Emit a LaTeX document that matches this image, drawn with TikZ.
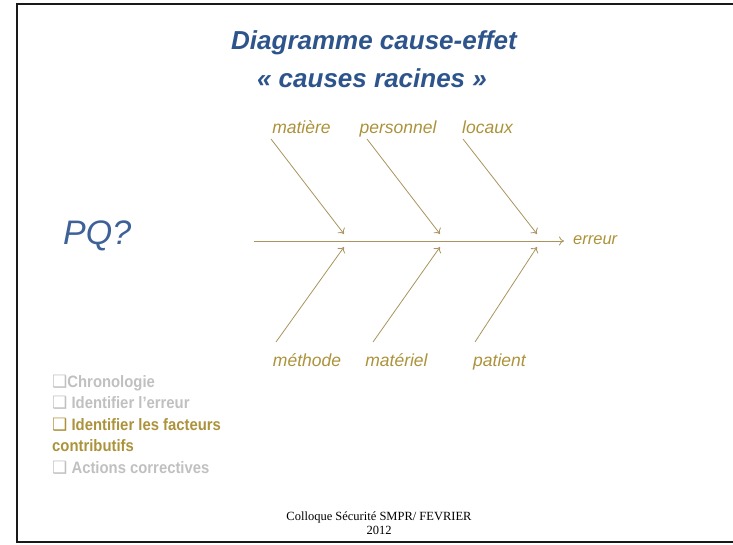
\documentclass[tikz,border=0pt]{standalone}
\usepackage{fontspec}
\usetikzlibrary{arrows.meta}
\setmainfont{Liberation Sans}
\newfontfamily\symfont{DejaVu Sans}
\newfontfamily\narrowfont[FakeStretch=0.9]{Liberation Sans}
\newfontfamily\footfont{Liberation Serif}
\definecolor{titleblue}{RGB}{46,84,140}
\definecolor{pqblue}{RGB}{62,98,152}
\definecolor{gold}{RGB}{172,146,58}
\definecolor{boneline}{RGB}{168,148,92}
\definecolor{greytext}{RGB}{192,192,192}

\begin{document}
\begin{tikzpicture}[x=1pt,y=-1pt,
    title/.style={font=\fontsize{26}{30}\selectfont\bfseries\itshape, text=titleblue, inner sep=0pt, anchor=base},
    cause/.style={font=\fontsize{17.5}{20}\selectfont\itshape, text=gold, inner sep=0pt, anchor=base},
    bone/.style={draw=boneline, line width=0.8pt, -{To[length=5pt,width=9pt]}},
    item/.style={font=\fontsize{16.5}{20}\selectfont\narrowfont\bfseries, inner sep=0pt, anchor=base west},
    box/.style={}]
    \useasboundingbox (0,0) rectangle (733,545);

    % frame of the slide
    \draw[line width=2.6pt, black!90] (733,4) -- (17,4) -- (17,542) -- (733,542);

    % title
    \node[title] (t1) at (374,50) {Diagramme cause-effet};
    \node[title] (t2) at (372,88) {« causes racines »};

    \node[font=\fontsize{34}{40}\selectfont\itshape, text=pqblue, inner sep=0pt, anchor=base west] (pq) at (63,245) {PQ?};

    % main spine
    \coordinate (tail) at (254,241);
    \node[cause, font=\fontsize{16.5}{20}\selectfont\itshape, anchor=base west] (erreur) at (573,245) {erreur};
    \draw[bone] (tail) -- ([xshift=-9pt]erreur.west |- tail);

    % causes above the spine
    \foreach \name/\txt/\lx/\sx/\ex in {matiere/matière/301.5/271/344, personnel/personnel/398/367/440, locaux/locaux/487.5/463/537} {
        \node[cause] (\name) at (\lx,134) {\txt};
        \coordinate (\name-s) at (\sx,139);
        \coordinate (\name-e) at (\ex,234);
        \draw[bone] (\name-s) -- (\name-e);
    }

    % causes below the spine
    \foreach \name/\txt/\lx/\sx/\ex in {methode/méthode/307/276/344, materiel/matériel/396.5/373/440, patient/patient/499.5/475/537} {
        \node[cause] (\name) at (\lx,366) {\txt};
        \coordinate (\name-s) at (\sx,342);
        \coordinate (\name-e) at (\ex,247);
        \draw[bone] (\name-s) -- (\name-e);
    }

    % steps of the analysis
    \node[item, text=greytext] (b1) at (52,387) {{\symfont\fontsize{17}{16}\selectfont ❑}Chronologie};
    \node[item, text=greytext] (b2) at (52,408.5) {{\symfont\fontsize{17}{16}\selectfont ❑} Identifier l’erreur};
    \node[item, text=gold] (b3) at (52,430) {{\symfont\fontsize{17}{16}\selectfont ❑} Identifier les facteurs};
    \node[item, text=gold] (b4) at (52,451.5) {contributifs};
    \node[item, text=greytext] (b5) at (52,473) {{\symfont\fontsize{17}{16}\selectfont ❑} Actions correctives};

    % footer
    \node[font=\fontsize{12.5}{14}\selectfont\footfont, inner sep=0pt, anchor=base] (foot1) at (379,520) {Colloque Sécurité SMPR/ FEVRIER};
    \node[font=\fontsize{12.5}{14}\selectfont\footfont, inner sep=0pt, anchor=base] (foot2) at (379,534) {2012};
\end{tikzpicture}
\end{document}
